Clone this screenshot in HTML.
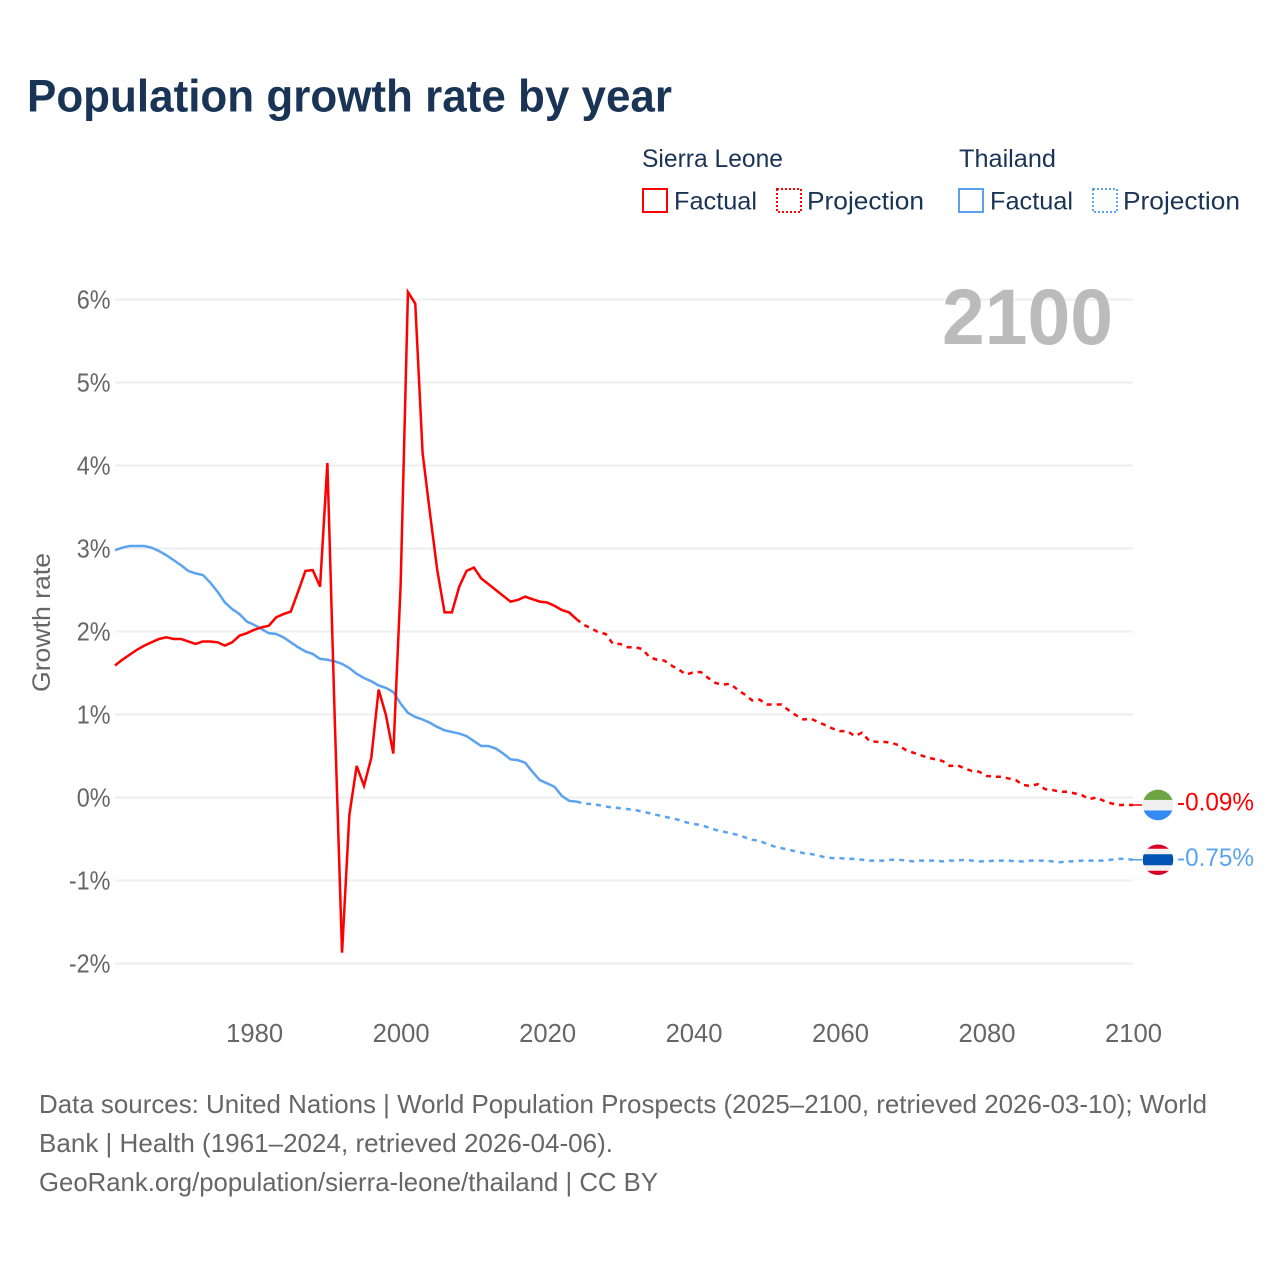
<!DOCTYPE html>
<html lang="en">
<head>
<meta charset="utf-8">
<title>Population growth rate by year</title>
<style>
html,body{margin:0;padding:0;background:#fff;}
svg{display:block;font-family:"Liberation Sans",sans-serif;}
</style>
</head>
<body>
<svg id="chart" xmlns="http://www.w3.org/2000/svg" width="1280" height="1280" viewBox="0 0 1280 1280">
  <rect x="0" y="0" width="1280" height="1280" fill="#ffffff"/>
  <text x="27" y="111.5" font-size="45" font-weight="700" fill="#1a3456" textLength="645" lengthAdjust="spacingAndGlyphs">Population growth rate by year</text>

  <g font-size="25" fill="#1a3456">
    <text x="642" y="167" textLength="141" lengthAdjust="spacingAndGlyphs">Sierra Leone</text>
    <text x="959" y="167" textLength="97" lengthAdjust="spacingAndGlyphs">Thailand</text>
    <g>
      <rect x="643" y="189" width="24" height="23" fill="none" stroke="#ff0000" stroke-width="2"/>
      <text x="674" y="209.5" textLength="83" lengthAdjust="spacingAndGlyphs">Factual</text>
    </g>
    <g>
      <rect x="777" y="189" width="24" height="23" fill="none" stroke="#ff0000" stroke-width="2" stroke-dasharray="2 2"/>
      <text x="807" y="209.5" textLength="117" lengthAdjust="spacingAndGlyphs">Projection</text>
    </g>
    <g>
      <rect x="959" y="189" width="24" height="23" fill="none" stroke="#5ba3ef" stroke-width="2"/>
      <text x="990" y="209.5" textLength="83" lengthAdjust="spacingAndGlyphs">Factual</text>
    </g>
    <g>
      <rect x="1093" y="189" width="24" height="23" fill="none" stroke="#5ba3ef" stroke-width="2" stroke-dasharray="2 2"/>
      <text x="1123" y="209.5" textLength="117" lengthAdjust="spacingAndGlyphs">Projection</text>
    </g>
  </g>

  <g id="grid"></g>
  <g id="yticks"></g>
  <g id="xticks"></g>
  <text transform="translate(50,692) rotate(-90)" font-size="25" fill="#666666" textLength="139" lengthAdjust="spacingAndGlyphs">Growth rate</text>
  <text x="942" y="344" font-size="79" font-weight="700" fill="#bbbbbb" textLength="171" lengthAdjust="spacingAndGlyphs">2100</text>
  <g id="series"></g>
  <g id="endpoints"></g>

  <g font-size="26" fill="#666666">
    <text x="39" y="1113" textLength="1168" lengthAdjust="spacingAndGlyphs">Data sources: United Nations | World Population Prospects (2025–2100, retrieved 2026-03-10); World</text>
    <text x="39" y="1152" textLength="574" lengthAdjust="spacingAndGlyphs">Bank | Health (1961–2024, retrieved 2026-04-06).</text>
    <text x="39" y="1191" textLength="619" lengthAdjust="spacingAndGlyphs">GeoRank.org/population/sierra-leone/thailand | CC BY</text>
  </g>
</svg>
<script>
const factualStartYear = 1961;
const projectionStartYear = 2024;
const yTickValues = [-2, -1, 0, 1, 2, 3, 4, 5, 6];
const xTickYears = [1980, 2000, 2020, 2040, 2060, 2080, 2100];
const sierraLeoneFactual = [
  1.59,1.66,1.72,1.78,1.83,1.87,1.91,1.93,1.91,1.91,
  1.88,1.85,1.88,1.88,1.87,1.83,1.87,1.95,1.98,2.02,
  2.05,2.07,2.17,2.21,2.24,2.48,2.73,2.74,2.54,4.03,
  0.96,-1.87,-0.21,0.38,0.14,0.48,1.30,0.99,0.53,2.56,
  6.09,5.95,4.15,3.43,2.74,2.23,2.23,2.54,2.73,2.77,
  2.64,2.57,2.50,2.43,2.36,2.38,2.42,2.39,2.36,2.35,
  2.31,2.26,2.23,2.15
];
const sierraLeoneProjection = [
  2.15,2.08,2.04,1.99,1.97,1.85,1.85,1.81,1.81,1.79,1.69,
  1.66,1.65,1.59,1.54,1.48,1.51,1.51,1.44,1.38,1.36,
  1.37,1.30,1.24,1.17,1.18,1.12,1.12,1.12,1.05,0.99,
  0.94,0.95,0.91,0.87,0.83,0.80,0.80,0.74,0.78,0.68,
  0.67,0.67,0.66,0.63,0.57,0.54,0.51,0.48,0.46,0.44,
  0.38,0.39,0.35,0.32,0.31,0.26,0.25,0.25,0.23,0.21,
  0.15,0.14,0.16,0.10,0.09,0.07,0.07,0.05,0.03,-0.02,
  0.00,-0.04,-0.07,-0.09,-0.09,-0.09
];
const thailandFactual = [
  2.98,3.01,3.03,3.03,3.03,3.01,2.97,2.92,2.86,2.80,
  2.73,2.70,2.68,2.59,2.48,2.35,2.27,2.21,2.12,2.08,
  2.03,1.98,1.97,1.93,1.87,1.81,1.76,1.73,1.67,1.66,
  1.64,1.61,1.56,1.49,1.44,1.40,1.35,1.32,1.27,1.13,
  1.02,0.97,0.94,0.90,0.85,0.81,0.79,0.77,0.74,0.68,
  0.62,0.62,0.59,0.53,0.46,0.45,0.42,0.31,0.21,0.17,
  0.13,0.02,-0.04,-0.05
];
const thailandProjection = [
  -0.05,-0.07,-0.08,-0.09,-0.11,-0.12,-0.13,-0.14,-0.15,-0.17,-0.19,
  -0.21,-0.23,-0.25,-0.27,-0.30,-0.32,-0.33,-0.36,-0.39,-0.41,
  -0.43,-0.45,-0.48,-0.51,-0.52,-0.56,-0.59,-0.61,-0.63,-0.65,
  -0.67,-0.68,-0.70,-0.72,-0.73,-0.73,-0.74,-0.74,-0.75,-0.76,
  -0.76,-0.76,-0.75,-0.75,-0.76,-0.77,-0.76,-0.76,-0.76,-0.77,
  -0.76,-0.76,-0.75,-0.76,-0.77,-0.77,-0.76,-0.76,-0.76,-0.77,
  -0.77,-0.76,-0.76,-0.76,-0.77,-0.78,-0.77,-0.77,-0.76,-0.76,
  -0.76,-0.76,-0.75,-0.74,-0.74,-0.75
];

const NS = 'http://www.w3.org/2000/svg';
const RED = '#ff0000';
const BLUE = '#5ba3ef';
const plotLeft = 115, plotRight = 1133;
function xScale(year) { return plotLeft + (year - 1961) * (plotRight - plotLeft) / (2100 - 1961); }
function yScale(value) { return 797.5 - value * 83; }
function make(tag, attrs, parent) {
  const el = document.createElementNS(NS, tag);
  for (const k in attrs) el.setAttribute(k, attrs[k]);
  parent.appendChild(el);
  return el;
}

const gridGroup = document.getElementById('grid');
const yGroup = document.getElementById('yticks');
yTickValues.forEach(function (v) {
  const line = make('line', {x1: plotLeft, x2: plotRight, y1: yScale(v), y2: yScale(v), stroke: '#eeeeee', 'stroke-width': 2}, gridGroup);
  
  
  const label = make('text', {x: 110.5, y: yScale(v) + 8.8, 'text-anchor': 'end', 'font-size': 26, fill: '#666666'}, yGroup);
  
  
  label.textContent = v + '%';
  label.setAttribute('textLength', (label.getComputedTextLength() * 0.9).toFixed(1));
  label.setAttribute('lengthAdjust', 'spacingAndGlyphs');
});

const xGroup = document.getElementById('xticks');
xTickYears.forEach(function (yr) {
  const label = make('text', {x: xScale(yr) + 0.5, y: 1042, 'text-anchor': 'middle', 'font-size': 26, fill: '#666666', textLength: 57, lengthAdjust: 'spacingAndGlyphs'}, xGroup);
  
  
  label.textContent = yr;
});

function linePath(values, startYear) {
  return values.map(function (v, i) {
    return (i ? 'L' : 'M') + xScale(startYear + i).toFixed(2) + ' ' + yScale(v).toFixed(2);
  }).join(' ');
}

const seriesGroup = document.getElementById('series');
const factualBlue = make('path', {d: linePath(thailandFactual, factualStartYear), fill: 'none', stroke: BLUE, 'stroke-width': 2.5, 'stroke-linejoin': 'miter'}, seriesGroup);


const projBlue = make('path', {d: linePath(thailandProjection, projectionStartYear), fill: 'none', stroke: BLUE, 'stroke-width': 2.5, 'stroke-dasharray': '5 5'}, seriesGroup);


const factualRed = make('path', {d: linePath(sierraLeoneFactual, factualStartYear), fill: 'none', stroke: RED, 'stroke-width': 2.5, 'stroke-linejoin': 'miter'}, seriesGroup);


const projRed = make('path', {d: linePath(sierraLeoneProjection, projectionStartYear), fill: 'none', stroke: RED, 'stroke-width': 2.5, 'stroke-dasharray': '5 5'}, seriesGroup);



const endGroup = document.getElementById('endpoints');
function stripes(cy, cx, bands, clipId) {
  const defs = make('defs', {}, endGroup);
  const clip = make('clipPath', {id: clipId}, defs);
  make('circle', {cx: cx, cy: cy, r: 15.3}, clip);
  const g = make('g', {'clip-path': 'url(#' + clipId + ')'}, endGroup);
  bands.forEach(function (b) {
    make('rect', {x: cx - 16, y: cy + b[0], width: 32, height: b[1], fill: b[2]}, g);
  });
  return g;
}

const redEnd = sierraLeoneProjection[sierraLeoneProjection.length - 1];
const blueEnd = thailandProjection[thailandProjection.length - 1];

const redStub = make('line', {x1: plotRight, x2: 1142, y1: yScale(redEnd), y2: yScale(redEnd), stroke: RED, 'stroke-width': 1.5}, endGroup);


const blueStub = make('line', {x1: plotRight, x2: 1142, y1: yScale(blueEnd), y2: yScale(blueEnd), stroke: BLUE, 'stroke-width': 1.5}, endGroup);



const flagSL = stripes(yScale(redEnd), 1158, [[-16, 11, '#6da544'], [-5, 10.5, '#f0f0f0'], [5.5, 11, '#338af3']], 'clip-sl');


const flagTH = stripes(yScale(blueEnd), 1158, [[-16, 32, '#f0f0f0'], [-16, 5, '#d80027'], [11, 5, '#d80027'], [-5.5, 11, '#0052b4']], 'clip-th');



const redValue = make('text', {x: 1177, y: yScale(redEnd) + 5.5, 'font-size': 25, fill: RED, textLength: 77, lengthAdjust: 'spacingAndGlyphs'}, endGroup);


redValue.textContent = redEnd.toFixed(2) + '%';
const blueValue = make('text', {x: 1177, y: yScale(blueEnd) + 6, 'font-size': 25, fill: BLUE, textLength: 77, lengthAdjust: 'spacingAndGlyphs'}, endGroup);


blueValue.textContent = blueEnd.toFixed(2) + '%';
</script>
</body>
</html>
